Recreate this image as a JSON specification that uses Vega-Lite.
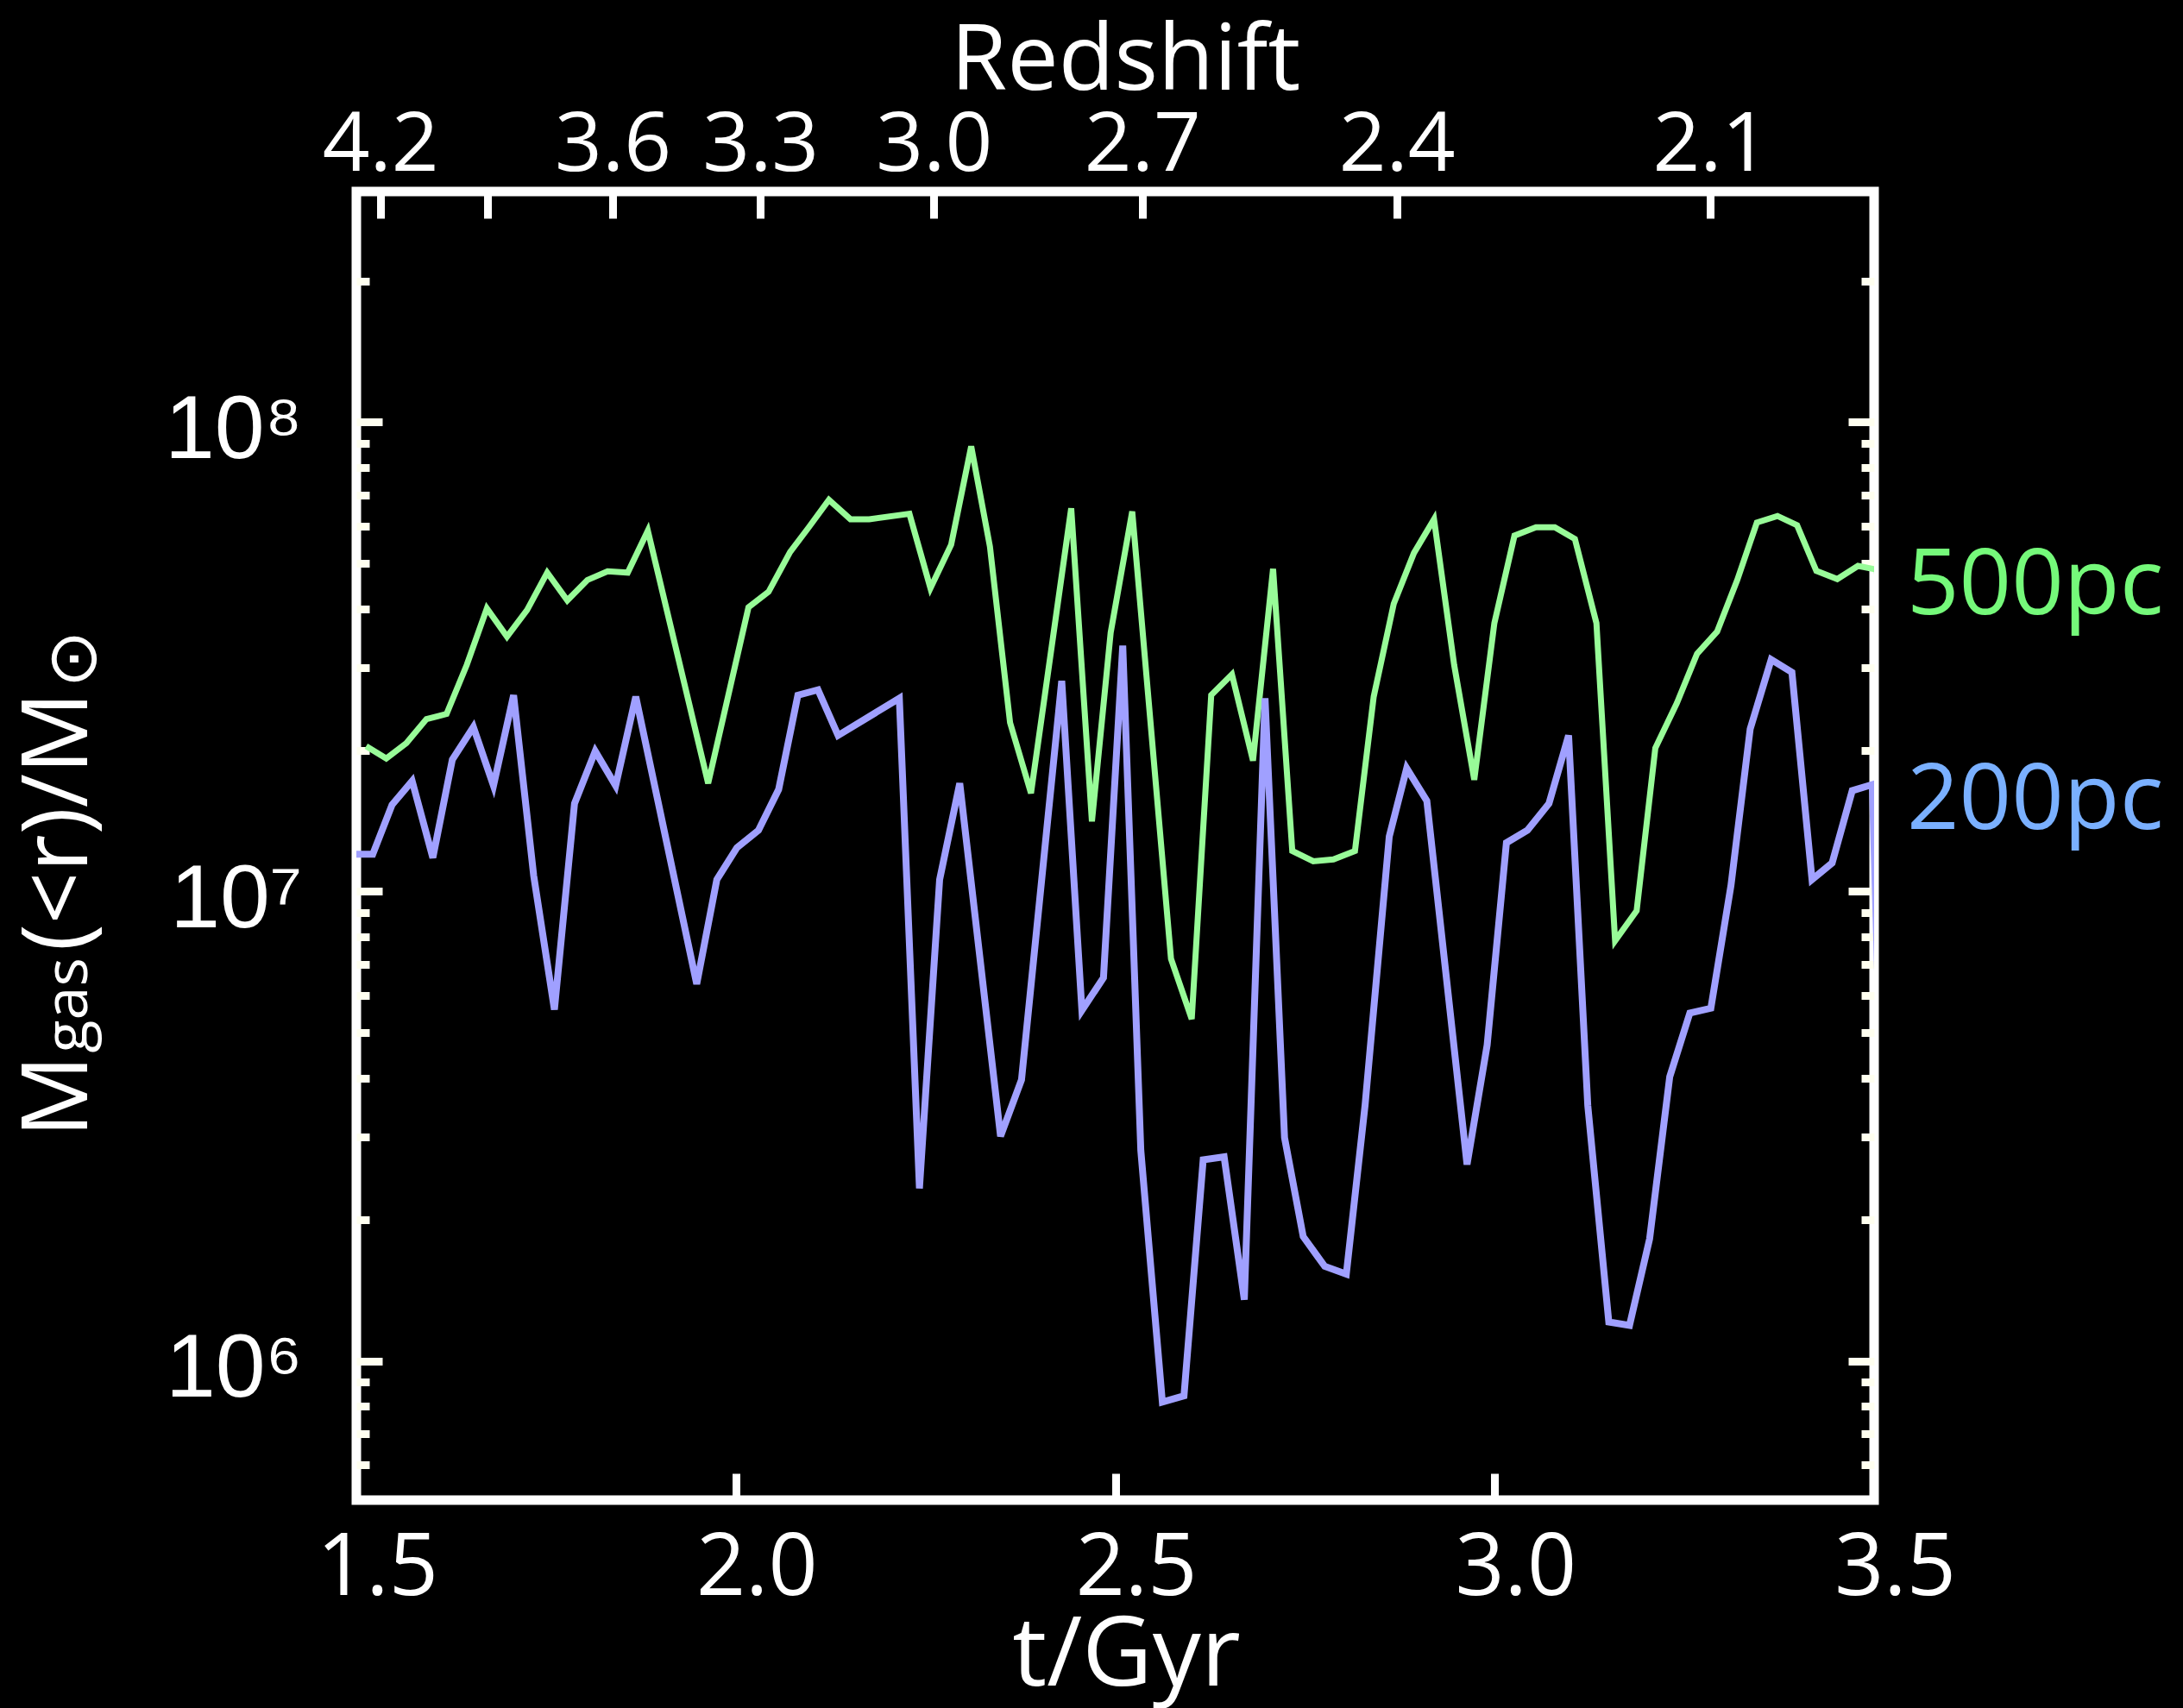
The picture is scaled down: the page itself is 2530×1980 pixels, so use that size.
{
  "$schema": "https://vega.github.io/schema/vega-lite/v6.json",
  "width": 1759,
  "height": 1517,
  "autosize": {"type": "none"},
  "padding": {"left": 413, "top": 222, "right": 358, "bottom": 241},
  "background": "black",
  "config": {
    "view": {"stroke": "white", "strokeWidth": 11},
    "axis": {"domain": false, "grid": false, "labelColor": "white", "tickColor": "white", "titleColor": "white", "titleFontWeight": "normal", "labelFlush": false, "labelOverlap": false}
  },
  "datasets": {
    "lines": [
      {"radius":"500pc","t":1.5129,"M":2.04e7},
      {"radius":"500pc","t":1.5394,"M":1.92e7},
      {"radius":"500pc","t":1.5659,"M":2.07e7},
      {"radius":"500pc","t":1.5924,"M":2.33e7},
      {"radius":"500pc","t":1.6189,"M":2.39e7},
      {"radius":"500pc","t":1.6455,"M":3.04e7},
      {"radius":"500pc","t":1.6720,"M":4.01e7},
      {"radius":"500pc","t":1.6985,"M":3.49e7},
      {"radius":"500pc","t":1.7250,"M":3.98e7},
      {"radius":"500pc","t":1.7515,"M":4.78e7},
      {"radius":"500pc","t":1.7780,"M":4.17e7},
      {"radius":"500pc","t":1.8045,"M":4.61e7},
      {"radius":"500pc","t":1.8311,"M":4.81e7},
      {"radius":"500pc","t":1.8576,"M":4.78e7},
      {"radius":"500pc","t":1.8841,"M":5.87e7},
      {"radius":"500pc","t":1.9636,"M":1.70e7},
      {"radius":"500pc","t":2.0167,"M":4.03e7},
      {"radius":"500pc","t":2.0432,"M":4.35e7},
      {"radius":"500pc","t":2.0716,"M":5.29e7},
      {"radius":"500pc","t":2.0962,"M":5.97e7},
      {"radius":"500pc","t":2.1227,"M":6.83e7},
      {"radius":"500pc","t":2.1511,"M":6.21e7},
      {"radius":"500pc","t":2.1758,"M":6.21e7},
      {"radius":"500pc","t":2.2288,"M":6.38e7},
      {"radius":"500pc","t":2.2565,"M":4.43e7},
      {"radius":"500pc","t":2.2838,"M":5.48e7},
      {"radius":"500pc","t":2.3102,"M":8.88e7},
      {"radius":"500pc","t":2.3349,"M":5.43e7},
      {"radius":"500pc","t":2.3614,"M":2.29e7},
      {"radius":"500pc","t":2.3890,"M":1.62e7},
      {"radius":"500pc","t":2.4420,"M":6.55e7},
      {"radius":"500pc","t":2.4693,"M":1.41e7},
      {"radius":"500pc","t":2.4940,"M":3.56e7},
      {"radius":"500pc","t":2.5224,"M":6.45e7},
      {"radius":"500pc","t":2.5735,"M":7.19e6},
      {"radius":"500pc","t":2.6008,"M":5.35e6},
      {"radius":"500pc","t":2.6265,"M":2.62e7},
      {"radius":"500pc","t":2.6538,"M":2.90e7},
      {"radius":"500pc","t":2.6815,"M":1.90e7},
      {"radius":"500pc","t":2.7080,"M":4.87e7},
      {"radius":"500pc","t":2.7333,"M":1.22e7},
      {"radius":"500pc","t":2.7610,"M":1.16e7},
      {"radius":"500pc","t":2.7875,"M":1.17e7},
      {"radius":"500pc","t":2.8159,"M":1.22e7},
      {"radius":"500pc","t":2.8406,"M":2.60e7},
      {"radius":"500pc","t":2.8670,"M":4.10e7},
      {"radius":"500pc","t":2.8936,"M":5.26e7},
      {"radius":"500pc","t":2.9201,"M":6.21e7},
      {"radius":"500pc","t":2.9466,"M":3.04e7},
      {"radius":"500pc","t":2.9731,"M":1.73e7},
      {"radius":"500pc","t":2.9996,"M":3.73e7},
      {"radius":"500pc","t":3.0261,"M":5.73e7},
      {"radius":"500pc","t":3.0545,"M":5.97e7},
      {"radius":"500pc","t":3.0792,"M":5.97e7},
      {"radius":"500pc","t":3.1057,"M":5.64e7},
      {"radius":"500pc","t":3.1341,"M":3.73e7},
      {"radius":"500pc","t":3.1587,"M":7.85e6},
      {"radius":"500pc","t":3.1871,"M":9.10e6},
      {"radius":"500pc","t":3.2117,"M":2.02e7},
      {"radius":"500pc","t":3.2401,"M":2.52e7},
      {"radius":"500pc","t":3.2667,"M":3.21e7},
      {"radius":"500pc","t":3.2932,"M":3.58e7},
      {"radius":"500pc","t":3.3197,"M":4.61e7},
      {"radius":"500pc","t":3.3455,"M":6.11e7},
      {"radius":"500pc","t":3.3727,"M":6.31e7},
      {"radius":"500pc","t":3.3985,"M":6.03e7},
      {"radius":"500pc","t":3.4239,"M":4.82e7},
      {"radius":"500pc","t":3.4515,"M":4.63e7},
      {"radius":"500pc","t":3.4788,"M":4.94e7},
      {"radius":"500pc","t":3.5034,"M":4.85e7},
      {"radius":"500pc","t":3.5300,"M":1.5e7},
      {"radius":"200pc","t":1.4951,"M":1.20e7},
      {"radius":"200pc","t":1.5216,"M":1.20e7},
      {"radius":"200pc","t":1.5470,"M":1.53e7},
      {"radius":"200pc","t":1.5735,"M":1.72e7},
      {"radius":"200pc","t":1.6008,"M":1.18e7},
      {"radius":"200pc","t":1.6265,"M":1.91e7},
      {"radius":"200pc","t":1.6542,"M":2.24e7},
      {"radius":"200pc","t":1.6807,"M":1.68e7},
      {"radius":"200pc","t":1.7072,"M":2.62e7},
      {"radius":"200pc","t":1.7337,"M":1.08e7},
      {"radius":"200pc","t":1.7610,"M":5.60e6},
      {"radius":"200pc","t":1.7875,"M":1.54e7},
      {"radius":"200pc","t":1.8148,"M":1.99e7},
      {"radius":"200pc","t":1.8417,"M":1.68e7},
      {"radius":"200pc","t":1.8682,"M":2.60e7},
      {"radius":"200pc","t":1.9485,"M":6.35e6},
      {"radius":"200pc","t":1.9750,"M":1.06e7},
      {"radius":"200pc","t":2.0015,"M":1.24e7},
      {"radius":"200pc","t":2.0299,"M":1.35e7},
      {"radius":"200pc","t":2.0565,"M":1.65e7},
      {"radius":"200pc","t":2.0818,"M":2.62e7},
      {"radius":"200pc","t":2.1083,"M":2.69e7},
      {"radius":"200pc","t":2.1348,"M":2.15e7},
      {"radius":"200pc","t":2.2155,"M":2.58e7},
      {"radius":"200pc","t":2.2420,"M":2.33e6},
      {"radius":"200pc","t":2.2686,"M":1.06e7},
      {"radius":"200pc","t":2.2951,"M":1.70e7},
      {"radius":"200pc","t":2.3489,"M":3.01e6},
      {"radius":"200pc","t":2.3765,"M":3.97e6},
      {"radius":"200pc","t":2.4295,"M":2.81e7},
      {"radius":"200pc","t":2.4561,"M":5.58e6},
      {"radius":"200pc","t":2.4845,"M":6.55e6},
      {"radius":"200pc","t":2.5099,"M":3.34e7},
      {"radius":"200pc","t":2.5337,"M":2.81e6},
      {"radius":"200pc","t":2.5621,"M":8.17e5},
      {"radius":"200pc","t":2.5906,"M":8.42e5},
      {"radius":"200pc","t":2.6159,"M":2.68e6},
      {"radius":"200pc","t":2.6435,"M":2.72e6},
      {"radius":"200pc","t":2.6701,"M":1.35e6},
      {"radius":"200pc","t":2.6974,"M":2.58e7},
      {"radius":"200pc","t":2.7231,"M":2.99e6},
      {"radius":"200pc","t":2.7477,"M":1.84e6},
      {"radius":"200pc","t":2.7761,"M":1.59e6},
      {"radius":"200pc","t":2.8045,"M":1.53e6},
      {"radius":"200pc","t":2.8292,"M":3.50e6},
      {"radius":"200pc","t":2.8611,"M":1.31e7},
      {"radius":"200pc","t":2.8841,"M":1.83e7},
      {"radius":"200pc","t":2.9106,"M":1.56e7},
      {"radius":"200pc","t":2.9636,"M":2.62e6},
      {"radius":"200pc","t":2.9901,"M":4.71e6},
      {"radius":"200pc","t":3.0155,"M":1.27e7},
      {"radius":"200pc","t":3.0432,"M":1.35e7},
      {"radius":"200pc","t":3.0716,"M":1.54e7},
      {"radius":"200pc","t":3.0974,"M":2.15e7},
      {"radius":"200pc","t":3.1227,"M":3.50e6},
      {"radius":"200pc","t":3.1504,"M":1.21e6},
      {"radius":"200pc","t":3.1777,"M":1.19e6},
      {"radius":"200pc","t":3.2042,"M":1.82e6},
      {"radius":"200pc","t":3.2307,"M":4.03e6},
      {"radius":"200pc","t":3.2572,"M":5.51e6},
      {"radius":"200pc","t":3.2849,"M":5.64e6},
      {"radius":"200pc","t":3.3114,"M":1.03e7},
      {"radius":"200pc","t":3.3367,"M":2.22e7},
      {"radius":"200pc","t":3.3644,"M":3.12e7},
      {"radius":"200pc","t":3.3917,"M":2.93e7},
      {"radius":"200pc","t":3.4182,"M":1.06e7},
      {"radius":"200pc","t":3.4447,"M":1.15e7},
      {"radius":"200pc","t":3.4712,"M":1.64e7},
      {"radius":"200pc","t":3.4977,"M":1.69e7},
      {"radius":"200pc","t":3.5240,"M":5.0e5}
    ],
    "ends": [
      {"radius":"500pc","t":3.5,"M":4.85e7},
      {"radius":"200pc","t":3.5,"M":1.69e7}
    ]
  },
  "resolve": {"axis": {"x": "independent", "y": "independent"}, "scale": {"color": "independent"}},
  "layer": [
    {
      "data": {"name": "lines"},
      "mark": {"type": "line", "clip": true},
      "encoding": {
        "x": {"field": "t", "type": "quantitative",
          "scale": {"domain": [1.5, 3.5], "nice": false, "zero": false},
          "axis": {"orient": "bottom", "values": [1.5, 2, 2.5, 3, 3.5], "format": ".1f",
            "labelFont": "Open Sans", "labelFontSize": 100, "labelPadding": 61, "labelOffset": 24,
            "tickSize": -31, "tickWidth": 9,
            "title": "t/Gyr", "titleFont": "Open Sans", "titleFontSize": 112,
            "titleX": 892, "titleY": 214, "titleAlign": "center", "titleBaseline": "alphabetic", "titleAngle": 0}},
        "y": {"field": "M", "type": "quantitative",
          "scale": {"type": "log", "domain": [505000, 310000000], "nice": false},
          "axis": {"orient": "left",
            "values": [600000,700000,800000,900000,1000000,2000000,3000000,4000000,5000000,6000000,7000000,8000000,9000000,10000000,20000000,30000000,40000000,50000000,60000000,70000000,80000000,90000000,100000000,200000000],
            "labelExpr": "datum.value == 1000000 ? '10⁶' : datum.value == 10000000 ? '10⁷' : datum.value == 100000000 ? '10⁸' : ''",
            "labelFont": "Liberation Sans", "labelFontSize": 104, "labelPadding": 93, "labelOffset": 10, "labelAlign": "right", "labelBaseline": "middle",
            "tickSize": {"condition": {"test": "datum.value == 1000000 || datum.value == 10000000 || datum.value == 100000000", "value": -30}, "value": -15},
            "tickWidth": 9, "tickColor": "#fffff0",
            "title": "M", "titleFont": "Open Sans", "titleFontSize": 106,
            "titleX": -313, "titleY": 1096, "titleAngle": 270, "titleAlign": "left", "titleBaseline": "alphabetic"}},
        "color": {"field": "radius", "type": "nominal", "scale": {"domain": ["500pc", "200pc"], "range": ["#98fb98", "#a0a0ff"]}, "legend": null},
        "strokeWidth": {"field": "radius", "type": "ordinal", "scale": {"domain": ["500pc", "200pc"], "range": [7, 8]}, "legend": null}
      }
    },
    {
      "data": {"name": "ends"},
      "mark": {"type": "text", "align": "left", "baseline": "middle", "dx": 38, "dy": 20, "font": "Open Sans", "fontSize": 106, "clip": false},
      "encoding": {
        "x": {"field": "t", "type": "quantitative",
          "axis": {"orient": "top", "values": [1.5315, 1.6733, 1.8378, 2.0324, 2.261, 2.5356, 2.8709, 3.2844],
            "labelExpr": "datum.value < 1.6 ? '4.2' : datum.value < 1.75 ? '' : datum.value < 1.9 ? '3.6' : datum.value < 2.1 ? '3.3' : datum.value < 2.4 ? '3.0' : datum.value < 2.7 ? '2.7' : datum.value < 3.0 ? '2.4' : '2.1'",
            "labelFont": "Open Sans", "labelFontSize": 96, "labelPadding": 36,
            "tickSize": -31, "tickWidth": 9,
            "title": "Redshift", "titleFont": "Open Sans", "titleFontSize": 106,
            "titleX": 891, "titleY": -119, "titleAlign": "center", "titleBaseline": "alphabetic", "titleAngle": 0}},
        "y": {"field": "M", "type": "quantitative",
          "axis": {"orient": "right",
            "values": [600000,700000,800000,900000,1000000,2000000,3000000,4000000,5000000,6000000,7000000,8000000,9000000,10000000,20000000,30000000,40000000,50000000,60000000,70000000,80000000,90000000,100000000,200000000],
            "labels": false,
            "tickSize": {"condition": {"test": "datum.value == 1000000 || datum.value == 10000000 || datum.value == 100000000", "value": -30}, "value": -15},
            "tickWidth": 9, "tickColor": "#fffff0", "title": null}},
        "text": {"field": "radius"},
        "color": {"field": "radius", "type": "nominal", "scale": {"domain": ["500pc", "200pc"], "range": ["#75f97a", "#7ab0ff"]}, "legend": null}
      }
    },
    {
      "data": {"name": "ends"},
      "mark": {"type": "point", "opacity": 0},
      "encoding": {
        "x": {"field": "t", "type": "quantitative", "axis": null},
        "y": {"field": "M", "type": "quantitative",
          "axis": {"orient": "left", "ticks": false, "labels": false, "domain": false,
            "title": "gas", "titleFont": "Open Sans", "titleFontSize": 70,
            "titleX": -313, "titleY": 998, "titleAngle": 270, "titleAlign": "left", "titleBaseline": "alphabetic"}}
      }
    },
    {
      "data": {"name": "ends"},
      "mark": {"type": "point", "opacity": 0},
      "encoding": {
        "x": {"field": "t", "type": "quantitative", "axis": null},
        "y": {"field": "M", "type": "quantitative",
          "axis": {"orient": "left", "ticks": false, "labels": false, "domain": false,
            "title": "(<r)/M", "titleFont": "Open Sans", "titleFontSize": 106,
            "titleX": -313, "titleY": 880, "titleAngle": 270, "titleAlign": "left", "titleBaseline": "alphabetic"}}
      }
    },
    {
      "data": {"name": "ends"},
      "mark": {"type": "point", "opacity": 0},
      "encoding": {
        "x": {"field": "t", "type": "quantitative", "axis": null},
        "y": {"field": "M", "type": "quantitative",
          "axis": {"orient": "left", "ticks": false, "labels": false, "domain": false,
            "title": "⊙", "titleFont": "DejaVu Sans", "titleFontSize": 80,
            "titleX": -303, "titleY": 575, "titleAngle": 270, "titleAlign": "left", "titleBaseline": "alphabetic"}}
      }
    }
  ]
}
